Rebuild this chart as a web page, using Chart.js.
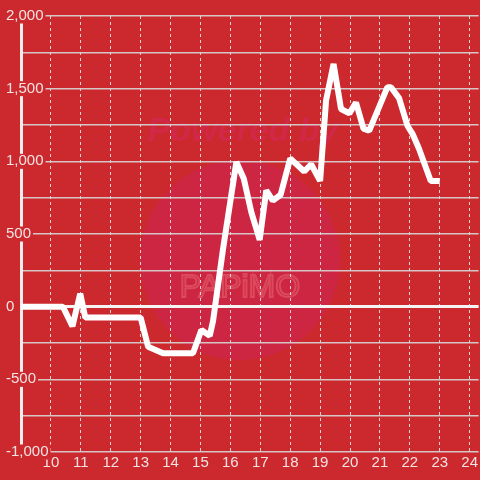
<!DOCTYPE html>
<html>
<head>
<meta charset="utf-8">
<script src="https://cdn.jsdelivr.net/npm/chart.js@4.4.0/dist/chart.umd.min.js"></script>
<style>
html, body { margin: 0; padding: 0; background: #cc292e; }
#wrap { width: 480px; height: 480px; }
</style>
</head>
<body>
<div id="wrap"><canvas id="graph"></canvas></div>
<script>
// hour of day -> balance
var hours = [8.75, 10.4, 10.72, 10.98, 11.15, 13.0, 13.25, 13.75, 14.75, 15.03, 15.31, 15.42, 15.75,
    16.2, 16.45, 16.7, 16.98, 17.2, 17.42, 17.68, 18.0, 18.47, 18.7, 19.0, 19.2, 19.45, 19.7, 19.98,
    20.2, 20.45, 20.64, 21.25, 21.37, 21.64, 21.92, 22.1, 22.3, 22.7, 23.0];
var balance = [0, 0, -135, 90, -75, -75, -275, -320, -320, -160, -200, -100, 390,
    995, 880, 650, 460, 800, 730, 770, 1020, 930, 980, 865, 1420, 1670, 1360, 1330,
    1405, 1225, 1210, 1510, 1510, 1435, 1245, 1185, 1090, 865, 865];
var xTicks = [10, 11, 12, 13, 14, 15, 16, 17, 18, 19, 20, 21, 22, 23, 24];
var yTicks = [-1000, -750, -500, -250, 0, 250, 500, 750, 1000, 1250, 1500, 1750, 2000];
var yLabels = [-1000, -500, 0, 500, 1000, 1500, 2000];

var bgColor = '#cc292e';
var textColor = '#f3e3e3';
var fontFamily = "'Liberation Sans', Arial, sans-serif";

var backdrop = {
    id: 'backdrop',
    beforeDraw: function (chart) {
        var ctx = chart.ctx;
        ctx.save();
        ctx.fillStyle = bgColor;
        ctx.fillRect(0, 0, chart.width, chart.height);
        // faint watermark
        ctx.fillStyle = 'rgba(205,35,85,0.5)';
        ctx.beginPath();
        ctx.arc(240, 260, 100, 0, Math.PI * 2);
        ctx.fill();
        ctx.fillStyle = 'rgba(212,40,88,0.6)';
        ctx.font = "italic bold 34px " + fontFamily;
        ctx.textAlign = 'center';
        ctx.textBaseline = 'middle';
        ctx.fillText('Powered by', 243, 132);
        ctx.strokeStyle = 'rgba(235,110,120,0.5)';
        ctx.lineWidth = 2;
        ctx.font = "32px " + fontFamily;
        ctx.strokeText('PAPiMO', 240, 288);
        ctx.restore();
    }
};

var points = hours.map(function (h, i) { return { x: h, y: balance[i] }; });

new Chart(document.getElementById('graph'), {
    type: 'line',
    data: {
        datasets: [{
            data: points,
            borderColor: '#ffffff',
            borderWidth: 6,
            borderJoinStyle: 'bevel',
            pointRadius: 0,
            tension: 0,
            fill: false
        }]
    },
    options: {
        responsive: true,
        maintainAspectRatio: false,
        animation: false,
        layout: { padding: { top: 16, left: 6, right: 0, bottom: 6 } },
        plugins: { legend: { display: false }, tooltip: { enabled: false } },
        scales: {
            x: {
                type: 'linear',
                min: 9,
                max: 24.3,
                afterBuildTicks: function (s) {
                    s.ticks = xTicks.map(function (v) { return { value: v }; });
                },
                grid: { color: 'rgba(240,240,240,0.85)', lineWidth: 1, drawTicks: false },
                border: { display: false, dash: [3, 3] },
                ticks: {
                    color: textColor,
                    padding: 2,
                    maxRotation: 0,
                    autoSkip: false,
                    font: { family: fontFamily, size: 15 }
                }
            },
            y: {
                min: -1000,
                max: 2000,
                afterBuildTicks: function (s) {
                    s.ticks = yTicks.map(function (v) { return { value: v }; });
                },
                afterFit: function (s) { s.width = 15; },
                grid: {
                    drawTicks: false,
                    color: function (c) { return c.tick && c.tick.value === 0 ? '#f4f4f4' : 'rgba(215,215,215,0.9)'; },
                    lineWidth: function (c) { return c.tick && c.tick.value === 0 ? 3 : 1.5; }
                },
                border: { display: true, color: '#eeeeee', width: 3 },
                ticks: {
                    color: textColor,
                    mirror: true,
                    crossAlign: 'near',
                    padding: -15,
                    autoSkip: false,
                    showLabelBackdrop: true,
                    backdropColor: bgColor,
                    backdropPadding: { top: 0, bottom: 0, left: 1, right: 2 },
                    font: { family: fontFamily, size: 15, lineHeight: 1 },
                    callback: function (v) {
                        return yLabels.indexOf(v) >= 0 ? v.toLocaleString('en-US') : '';
                    }
                }
            }
        }
    },
    plugins: [backdrop]
});
</script>
</body>
</html>
